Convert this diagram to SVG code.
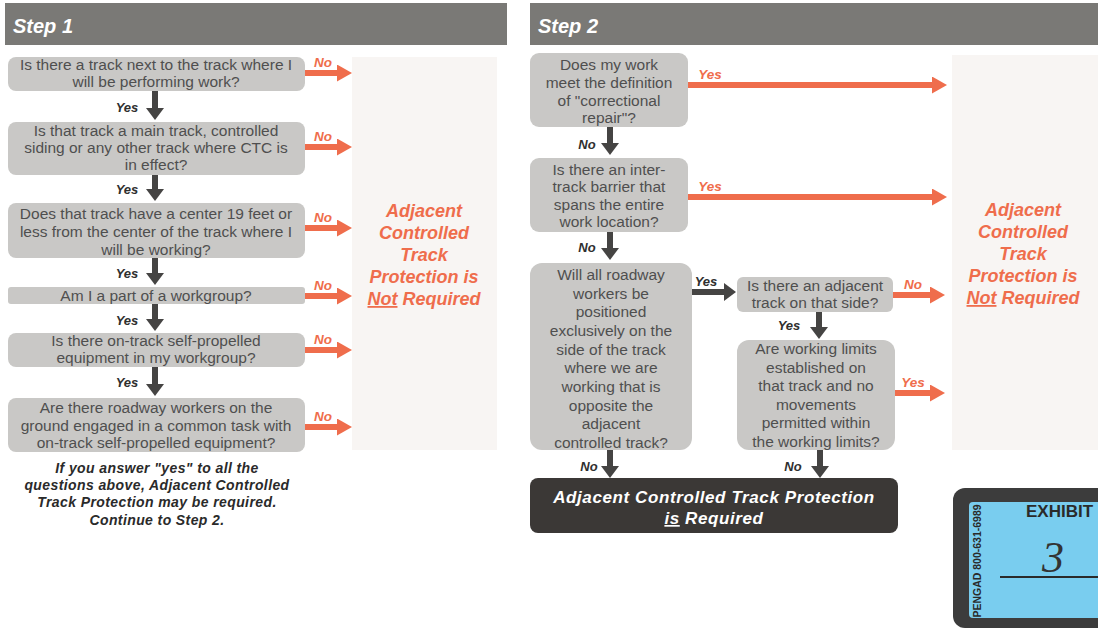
<svg xmlns="http://www.w3.org/2000/svg" width="1098" height="629" viewBox="0 0 1098 629">
<style>
.hdr{fill:#7a7976}
.htxt{font:italic bold 20px "Liberation Sans",Arial,sans-serif;fill:#ffffff}
.box{fill:#c9c8c6}
.q{font:15.5px "Liberation Sans",Arial,sans-serif;fill:#4f4f4f;text-anchor:middle}
.panel{fill:#f8f5f3}
.nr{font:italic bold 18px "Liberation Sans",Arial,sans-serif;fill:#ef6d4c;text-anchor:middle}
.ol{stroke:#ef6d4c;stroke-width:6;fill:none}
.dl{stroke:#454443;stroke-width:6;fill:none}
.olab{font:italic bold 13.5px "Liberation Sans",Arial,sans-serif;fill:#ef6d4c;text-anchor:middle}
.dlab{font:italic bold 13px "Liberation Sans",Arial,sans-serif;fill:#2f2f2f;text-anchor:middle}
.note{font:italic bold 14px "Liberation Sans",Arial,sans-serif;fill:#2a2a2a;text-anchor:middle;letter-spacing:0.4px}
.req{font:italic bold 17px "Liberation Sans",Arial,sans-serif;fill:#ffffff;text-anchor:middle;letter-spacing:0.6px}
</style>
<defs>
<marker id="oh" markerUnits="userSpaceOnUse" markerWidth="16" markerHeight="17" refX="1" refY="8.5" orient="auto"><path d="M0,0 L15,8.5 L0,17 z" fill="#ef6d4c"/></marker>
<marker id="dh" markerUnits="userSpaceOnUse" markerWidth="13" markerHeight="18" refX="1" refY="9" orient="auto"><path d="M0,0 L12,9 L0,18 z" fill="#454443"/></marker>
</defs>
<rect width="1098" height="629" fill="#ffffff"/>

<!-- Step headers -->
<g id="step1-header"><rect class="hdr" x="5" y="3" width="502" height="42"/><text class="htxt" x="13" y="33">Step 1</text></g>
<g id="step2-header"><rect class="hdr" x="530" y="3" width="568" height="42"/><text class="htxt" x="538" y="33">Step 2</text></g>

<!-- Panels -->
<g id="s1-not-required">
<rect class="panel" x="352" y="57" width="145" height="393"/>
<text class="nr" x="424" y="217">Adjacent</text>
<text class="nr" x="424" y="239">Controlled</text>
<text class="nr" x="424" y="261">Track</text>
<text class="nr" x="424" y="283">Protection is</text>
<text class="nr" x="424" y="305"><tspan text-decoration="underline">Not</tspan> Required</text>
</g>
<g id="s2-not-required">
<rect class="panel" x="952" y="55" width="146" height="395"/>
<text class="nr" x="1023" y="216">Adjacent</text>
<text class="nr" x="1023" y="238">Controlled</text>
<text class="nr" x="1023" y="260">Track</text>
<text class="nr" x="1023" y="282">Protection is</text>
<text class="nr" x="1023" y="304"><tspan text-decoration="underline">Not</tspan> Required</text>
</g>

<!-- Step 1 nodes -->
<g id="s1q1"><rect class="box" x="8" y="57" width="297" height="34" rx="8"/>
<text class="q" x="156" y="69.5">Is there a track next to the track where I</text>
<text class="q" x="156" y="86.5">will be performing work?</text></g>
<g id="s1q2"><rect class="box" x="8" y="122" width="297" height="53" rx="8"/>
<text class="q" x="156" y="136">Is that track a main track, controlled</text>
<text class="q" x="156" y="153">siding or any other track where CTC is</text>
<text class="q" x="156" y="170">in effect?</text></g>
<g id="s1q3"><rect class="box" x="8" y="203" width="297" height="55" rx="8"/>
<text class="q" x="156" y="219">Does that track have a center 19 feet or</text>
<text class="q" x="156" y="237">less from the center of the track where I</text>
<text class="q" x="156" y="255">will be working?</text></g>
<g id="s1q4"><rect class="box" x="8" y="287" width="297" height="17" rx="3"/>
<text class="q" x="156" y="301">Am I a part of a workgroup?</text></g>
<g id="s1q5"><rect class="box" x="8" y="333" width="297" height="34" rx="8"/>
<text class="q" x="156" y="346">Is there on-track self-propelled</text>
<text class="q" x="156" y="363">equipment in my workgroup?</text></g>
<g id="s1q6"><rect class="box" x="8" y="398" width="297" height="54" rx="8"/>
<text class="q" x="156" y="413">Are there roadway workers on the</text>
<text class="q" x="156" y="431">ground engaged in a common task with</text>
<text class="q" x="156" y="448">on-track self-propelled equipment?</text></g>
<g id="s1note">
<text class="note" x="157" y="473">If you answer "yes" to all the</text>
<text class="note" x="157" y="490">questions above, Adjacent Controlled</text>
<text class="note" x="157" y="507">Track Protection may be required.</text>
<text class="note" x="157" y="525">Continue to Step 2.</text>
</g>

<!-- Step 2 nodes -->
<g id="s2qA"><rect class="box" x="530" y="53" width="158" height="74" rx="9"/>
<text class="q" x="609" y="70">Does my work</text>
<text class="q" x="609" y="88">meet the definition</text>
<text class="q" x="609" y="106">of "correctional</text>
<text class="q" x="609" y="123">repair"?</text></g>
<g id="s2qB"><rect class="box" x="530" y="158" width="158" height="74" rx="9"/>
<text class="q" x="609" y="175">Is there an inter-</text>
<text class="q" x="609" y="192">track barrier that</text>
<text class="q" x="609" y="210">spans the entire</text>
<text class="q" x="609" y="227">work location?</text></g>
<g id="s2qC"><rect class="box" x="530" y="263" width="162" height="187" rx="12"/>
<text class="q" x="611" y="280">Will all roadway</text>
<text class="q" x="611" y="298.6">workers be</text>
<text class="q" x="611" y="317.3">positioned</text>
<text class="q" x="611" y="336">exclusively on the</text>
<text class="q" x="611" y="354.6">side of the track</text>
<text class="q" x="611" y="373.3">where we are</text>
<text class="q" x="611" y="392">working that is</text>
<text class="q" x="611" y="410.6">opposite the</text>
<text class="q" x="611" y="429.3">adjacent</text>
<text class="q" x="611" y="448">controlled track?</text></g>
<g id="s2qD"><rect class="box" x="737" y="277" width="156" height="35" rx="6"/>
<text class="q" x="815" y="291">Is there an adjacent</text>
<text class="q" x="815" y="308">track on that side?</text></g>
<g id="s2qE"><rect class="box" x="737" y="340" width="158" height="110" rx="12"/>
<text class="q" x="816" y="354">Are working limits</text>
<text class="q" x="816" y="372.6">established on</text>
<text class="q" x="816" y="391.2">that track and no</text>
<text class="q" x="816" y="409.8">movements</text>
<text class="q" x="816" y="428.4">permitted within</text>
<text class="q" x="816" y="447">the working limits?</text></g>
<g id="s2required"><rect x="530" y="478" width="368" height="55" rx="8" fill="#3b3836"/>
<text class="req" x="714" y="503">Adjacent Controlled Track Protection</text>
<text class="req" x="714" y="524"><tspan text-decoration="underline">is</tspan> Required</text></g>

<!-- Exhibit sticker -->
<g id="exhibit">
<rect x="953" y="488" width="160" height="140" rx="12" fill="#3c3c3c"/>
<rect x="969" y="502" width="140" height="116" rx="4" fill="#79cdef"/>
<text transform="translate(981,561) rotate(-90)" text-anchor="middle" font-family="'Liberation Sans Narrow','Liberation Sans',Arial,sans-serif" font-weight="bold" font-size="10.5" fill="#2a2a2a">PENGAD 800-631-6989</text>
<text x="1026" y="517" font-family="'Liberation Sans',Arial,sans-serif" font-weight="bold" font-size="17" fill="#2a2a2a">EXHIBIT</text>
<text x="1042" y="572" font-family="'Liberation Serif',serif" font-style="italic" font-size="44" fill="#333333">3</text>
<line x1="1000" y1="577" x2="1098" y2="577" stroke="#2a2a2a" stroke-width="2"/>
</g>

<!-- Connectors -->
<g id="connectors">
<line class="dl" x1="155" y1="91" x2="155" y2="109" marker-end="url(#dh)"/>
<line class="dl" x1="155" y1="175" x2="155" y2="190" marker-end="url(#dh)"/>
<line class="dl" x1="155" y1="258" x2="155" y2="274" marker-end="url(#dh)"/>
<line class="dl" x1="155" y1="304" x2="155" y2="320" marker-end="url(#dh)"/>
<line class="dl" x1="155" y1="367" x2="155" y2="385" marker-end="url(#dh)"/>
<text class="dlab" x="127" y="112">Yes</text>
<text class="dlab" x="127" y="194">Yes</text>
<text class="dlab" x="127" y="278">Yes</text>
<text class="dlab" x="127" y="325">Yes</text>
<text class="dlab" x="127" y="387">Yes</text>
<line class="ol" x1="305" y1="73" x2="338" y2="73" marker-end="url(#oh)"/>
<line class="ol" x1="305" y1="147" x2="338" y2="147" marker-end="url(#oh)"/>
<line class="ol" x1="305" y1="228" x2="338" y2="228" marker-end="url(#oh)"/>
<line class="ol" x1="305" y1="296" x2="338" y2="296" marker-end="url(#oh)"/>
<line class="ol" x1="305" y1="350" x2="338" y2="350" marker-end="url(#oh)"/>
<line class="ol" x1="305" y1="427" x2="338" y2="427" marker-end="url(#oh)"/>
<text class="olab" x="323" y="67">No</text>
<text class="olab" x="323" y="141">No</text>
<text class="olab" x="323" y="222">No</text>
<text class="olab" x="323" y="290">No</text>
<text class="olab" x="323" y="344">No</text>
<text class="olab" x="323" y="421">No</text>
<line class="ol" x1="688" y1="85" x2="933" y2="85" marker-end="url(#oh)"/>
<line class="ol" x1="688" y1="197" x2="933" y2="197" marker-end="url(#oh)"/>
<text class="olab" x="710" y="79">Yes</text>
<text class="olab" x="710" y="191">Yes</text>
<line class="ol" x1="893" y1="295" x2="931" y2="295" marker-end="url(#oh)"/>
<text class="olab" x="913" y="289">No</text>
<line class="ol" x1="895" y1="393" x2="931" y2="393" marker-end="url(#oh)"/>
<text class="olab" x="913" y="387">Yes</text>
<line class="dl" x1="610" y1="127" x2="610" y2="144" marker-end="url(#dh)"/>
<text class="dlab" x="587" y="149">No</text>
<line class="dl" x1="610" y1="232" x2="610" y2="249" marker-end="url(#dh)"/>
<text class="dlab" x="587" y="252">No</text>
<line class="dl" x1="692" y1="292" x2="725" y2="292" marker-end="url(#dh)"/>
<text class="dlab" x="706" y="286">Yes</text>
<line class="dl" x1="819" y1="312" x2="819" y2="328" marker-end="url(#dh)"/>
<text class="dlab" x="789" y="330">Yes</text>
<line class="dl" x1="610" y1="450" x2="610" y2="467" marker-end="url(#dh)"/>
<text class="dlab" x="589" y="471">No</text>
<line class="dl" x1="820" y1="450" x2="820" y2="467" marker-end="url(#dh)"/>
<text class="dlab" x="793" y="471">No</text>
</g>
</svg>
